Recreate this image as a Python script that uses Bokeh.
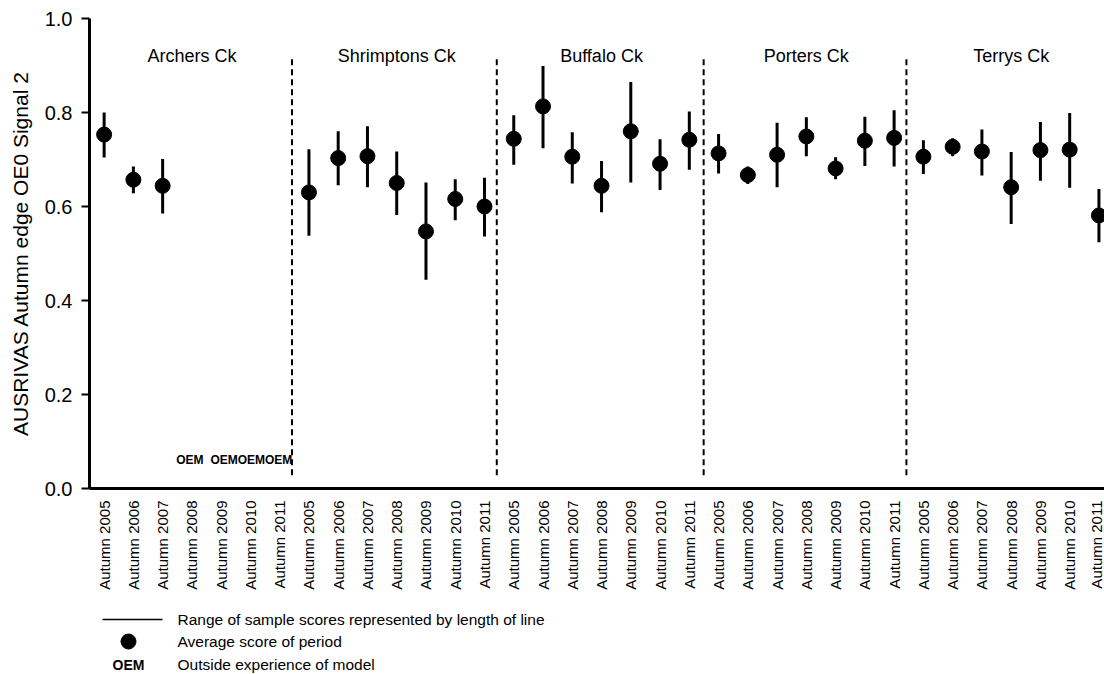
import math
import numpy as np
from bokeh.plotting import figure
from bokeh.models import ColumnDataSource, FixedTicker, Range1d, NumeralTickFormatter
from bokeh.layouts import column
from bokeh.embed import file_html
from bokeh.resources import INLINE
from bokeh.core.properties import value

FONT = "Liberation Sans"

sites = ["Archers Ck", "Shrimptons Ck", "Buffalo Ck", "Porters Ck", "Terrys Ck"]
years = ["Autumn 2005", "Autumn 2006", "Autumn 2007", "Autumn 2008",
         "Autumn 2009", "Autumn 2010", "Autumn 2011"]

nan = float("nan")
archers_mean = [0.753, 0.657, 0.644, nan, nan, nan, nan]
archers_high = [0.800, 0.685, 0.701, nan, nan, nan, nan]
archers_low = [0.704, 0.628, 0.585, nan, nan, nan, nan]
archers_oem = [False, False, False, True, True, True, True]

shrimptons_mean = [0.630, 0.703, 0.707, 0.650, 0.547, 0.616, 0.600]
shrimptons_high = [0.722, 0.760, 0.771, 0.717, 0.651, 0.658, 0.661]
shrimptons_low = [0.538, 0.645, 0.641, 0.582, 0.444, 0.571, 0.536]

buffalo_mean = [0.744, 0.813, 0.706, 0.644, 0.760, 0.691, 0.742]
buffalo_high = [0.794, 0.899, 0.758, 0.697, 0.865, 0.743, 0.802]
buffalo_low = [0.689, 0.724, 0.649, 0.588, 0.651, 0.635, 0.678]

porters_mean = [0.713, 0.667, 0.710, 0.749, 0.681, 0.740, 0.746]
porters_high = [0.754, 0.685, 0.778, 0.790, 0.705, 0.791, 0.805]
porters_low = [0.670, 0.648, 0.641, 0.707, 0.658, 0.686, 0.685]

terrys_mean = [0.706, 0.727, 0.717, 0.641, 0.720, 0.721, 0.581]
terrys_high = [0.741, 0.745, 0.764, 0.716, 0.780, 0.799, 0.637]
terrys_low = [0.669, 0.707, 0.666, 0.563, 0.655, 0.640, 0.524]

y_ticks = [0.0, 0.2, 0.4, 0.6, 0.8, 1.0]

legend_texts = ["Range of sample scores represented by length of line",
                "Average score of period", "Outside experience of model"]

# ---- assemble ----
x_labels = [yr for s in sites for yr in years]
n = len(x_labels)
xs = np.arange(n)
means = np.array(archers_mean + shrimptons_mean + buffalo_mean + porters_mean + terrys_mean)
highs = np.array(archers_high + shrimptons_high + buffalo_high + porters_high + terrys_high)
lows = np.array(archers_low + shrimptons_low + buffalo_low + porters_low + terrys_low)
ok = ~np.isnan(means)
src = ColumnDataSource(dict(x=xs[ok], m=means[ok], lo=lows[ok], hi=highs[ok]))

oem_x = [i for i, f in enumerate(archers_oem) if f]

group_len = len(years)
group_centers = [g * group_len + (group_len - 1) / 2 for g in range(len(sites))]
dividers = [g * group_len - 0.58 + (0.0 if g != 3 else 0.07) for g in range(1, len(sites))]

p = figure(width=1104, height=600,
           x_range=Range1d(-0.5, 34.19), y_range=Range1d(0, 1.0),
           output_backend="svg", toolbar_location=None,
           min_border_left=89, min_border_right=0, min_border_top=18, min_border_bottom=112)
p.outline_line_color = None
p.grid.visible = False
p.background_fill_color = "white"

# x axis
xa = p.xaxis[0]
xa.ticker = FixedTicker(ticks=list(range(n)))
xa.major_label_overrides = {i: lab for i, lab in enumerate(x_labels)}
xa.major_label_orientation = math.pi / 2
xa.major_tick_out = 0
xa.major_tick_in = 0
xa.minor_tick_out = 0
xa.minor_tick_in = 0
xa.axis_line_width = 3
xa.axis_line_color = "black"
xa.major_label_text_font = FONT
xa.major_label_text_font_size = "15px"
xa.major_label_text_color = "black"
xa.major_label_standoff = 12

# y axis
ya = p.yaxis[0]
ya.ticker = FixedTicker(ticks=y_ticks)
ya.formatter = NumeralTickFormatter(format="0.0")
ya.axis_line_width = 3
ya.axis_line_color = "black"
ya.major_tick_out = 8
ya.major_tick_in = 0
ya.major_tick_line_width = 2
ya.minor_tick_out = 0
ya.minor_tick_in = 0
ya.major_label_text_font = FONT
ya.major_label_text_font_size = "20px"
ya.major_label_text_color = "black"
ya.major_label_standoff = 9
ya.axis_label = "AUSRIVAS Autumn edge OE0 Signal 2"
ya.axis_label_text_font = FONT
ya.axis_label_text_font_size = "21px"
ya.axis_label_text_font_style = "normal"
ya.axis_label_text_color = "black"
ya.axis_label_standoff = 10

# dividers
p.segment(x0=dividers, y0=[0.028] * len(dividers), x1=dividers, y1=[0.915] * len(dividers),
          line_color="black", line_width=2, line_dash="6 4")

# range bars and means
p.segment(x0="x", y0="lo", x1="x", y1="hi", source=src, line_color="black", line_width=3)
p.scatter(x="x", y="m", source=src, size=15, fill_color="black", line_color="black")

# group labels
p.text(x=group_centers, y=[0.921] * len(sites), text=sites,
       text_font=value(FONT), text_font_size="18px", text_color="black",
       text_align="center", text_baseline="middle")

# OEM markers
oem_src = ColumnDataSource(dict(x=oem_x, y=[0.06] * len(oem_x), t=["OEM"] * len(oem_x),
                                dx=[-2, 3, 1, -1][:len(oem_x)]))
p.text(x="x", y="y", text="t", x_offset="dx", source=oem_src,
       text_font=value(FONT), text_font_size="12px", text_font_style="bold",
       text_color="black", text_align="center", text_baseline="middle")

# ---- legend panel (frame is aligned with the main plot's frame: 89..1104 px) ----
f2 = figure(width=1104, height=74, x_range=Range1d(89, 1104), y_range=Range1d(74, 0),
            output_backend="svg", toolbar_location=None,
            x_axis_location=None, y_axis_location=None,
            min_border_left=0, min_border_right=0, min_border_top=0, min_border_bottom=0)
f2.grid.visible = False
f2.outline_line_color = None
f2.segment(x0=[102], y0=[19], x1=[162], y1=[19], line_color="black", line_width=1.4)
f2.scatter(x=[128], y=[41], size=15, fill_color="black", line_color="black")
f2.text(x=[128], y=[64], text=["OEM"], text_font=value(FONT), text_font_size="14px",
        text_font_style="bold", text_color="black", text_align="center", text_baseline="middle")
f2.text(x=[177, 177, 177], y=[19, 41, 64], text=legend_texts,
        text_font=value(FONT), text_font_size="15.5px", text_color="black",
        text_align="left", text_baseline="middle")

layout = column(p, f2, spacing=0)
open("out.html", "w").write(file_html(layout, INLINE))
